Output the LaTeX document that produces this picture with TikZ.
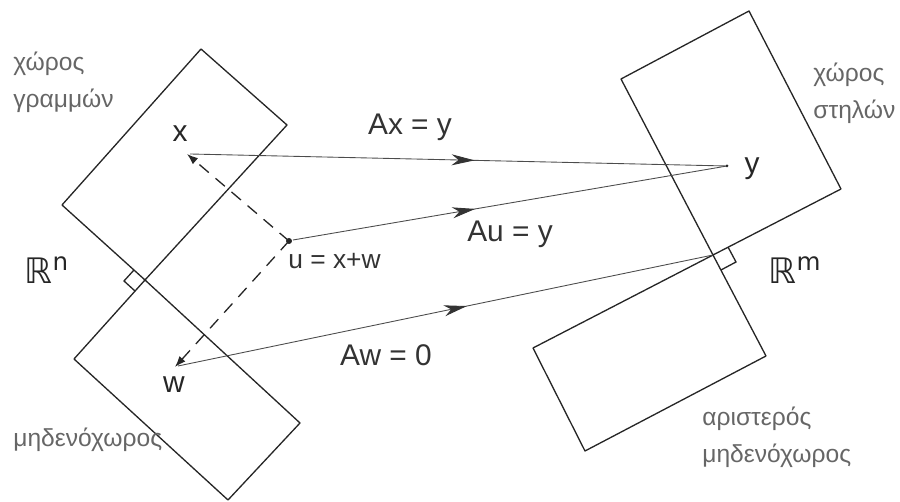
\documentclass[tikz,border=0pt]{standalone}
\usepackage{fontspec}
\setmainfont{Liberation Sans}
\newfontfamily\dvsans{DejaVu Sans}
\usetikzlibrary{arrows.meta,decorations.markings,calc}
\begin{document}
\begin{tikzpicture}[x=0.02cm,y=-0.02cm,
  space/.style={draw=black!85,line width=0.75pt,line join=round},
  mapline/.style={draw=black!70,line width=0.5pt},
  midarrow/.style={postaction={decorate},decoration={markings,
     mark=at position #1 with {\arrow[black!80]{Stealth[length=4.6mm,width=2.2mm,inset=1.4mm]}}}},
  dasharrow/.style={draw=black!85,line width=0.75pt,dash pattern=on 7pt off 5pt,
     -{Latex[length=2.2mm,width=1.6mm]}},
  rightangle/.style={draw=black!85,line width=0.75pt},
  gtext/.style={text=black!60,font=\fontsize{14}{21}\selectfont,align=left,inner sep=0pt},
  mlabel/.style={text=black!80,font=\fontsize{17}{20}\selectfont,inner sep=0pt},
  slabel/.style={text=black!80,font=\fontsize{15}{18}\selectfont,inner sep=0pt},
  plabel/.style={text=black!85,font=\fontsize{17}{20}\selectfont,inner sep=0pt},
  rlabel/.style={text=black!85,font=\dvsans\fontsize{20}{22}\selectfont,inner sep=0pt}
]
\useasboundingbox (0,0) rectangle (900,502);

% key points
\coordinate (O1) at (145,280);
\coordinate (O2) at (713,255);
\coordinate (x) at (187,154);
\coordinate (u) at (289,241);
\coordinate (w) at (175,367);
\coordinate (y) at (727,166);

% left: row space and nullspace
\draw[space] (201,49) -- (287,125) -- (O1) -- (62,205) -- cycle;
\draw[space] (O1) -- (300,423) -- (228,500) -- (74,359) -- cycle;
\draw[rightangle] ($(O1)+(-11,-10)$) -- ++(-10,11) -- ++(11,10);

% right: column space and left nullspace
\draw[space] (749,11) -- (841,189) -- (O2) -- (621,79) -- cycle;
\draw[space] (O2) -- (766,356) -- (585,451) -- (533,348) -- cycle;
\draw[rightangle] ($(O2)+(15,-8)$) -- ++(8,15) -- ++(-15,8);

% mappings
\draw[mapline,midarrow=0.53] ($(x)+(3,0)$) -- (y);
\draw[mapline,midarrow=0.42] ($(u)+(4,-1)$) -- (y);
\draw[mapline,midarrow=0.54] ($(w)+(3,-1)$) -- (O2);

% decomposition u = x + w
\draw[dasharrow] (u) -- (x);
\draw[dasharrow] (u) -- (w);
\fill[black!85] (u) circle (3);
\fill[black!85] (y) circle (1.5);

% point labels
\node[plabel] (lx) at (180,134) {x};
\node[plabel] (ly) at (752,169) {y};
\node[plabel] (lw) at (174,385) {w};
\node[slabel,anchor=west] (lu) at (288,261) {u = x+w};

% map labels
\node[mlabel] (lax) at (410,127) {Ax = y};
\node[mlabel] (lau) at (510,234) {Au = y};
\node[mlabel] (law) at (386,355) {Aw = 0};

% spaces
\node[rlabel] (rn) at (47,270) {ℝ\textsuperscript{n}};
\node[rlabel] (rm) at (795,270) {ℝ\textsuperscript{m}};

\node[gtext,anchor=west] (row) at (13,82) {χώρος\\γραμμών};
\node[gtext,anchor=west] (col) at (813,93) {χώρος\\στηλών};
\node[gtext,anchor=west] (nul) at (13,440) {μηδενόχωρος};
\node[gtext,anchor=west] (lnul) at (702,437) {αριστερός\\μηδενόχωρος};
\end{tikzpicture}
\end{document}
